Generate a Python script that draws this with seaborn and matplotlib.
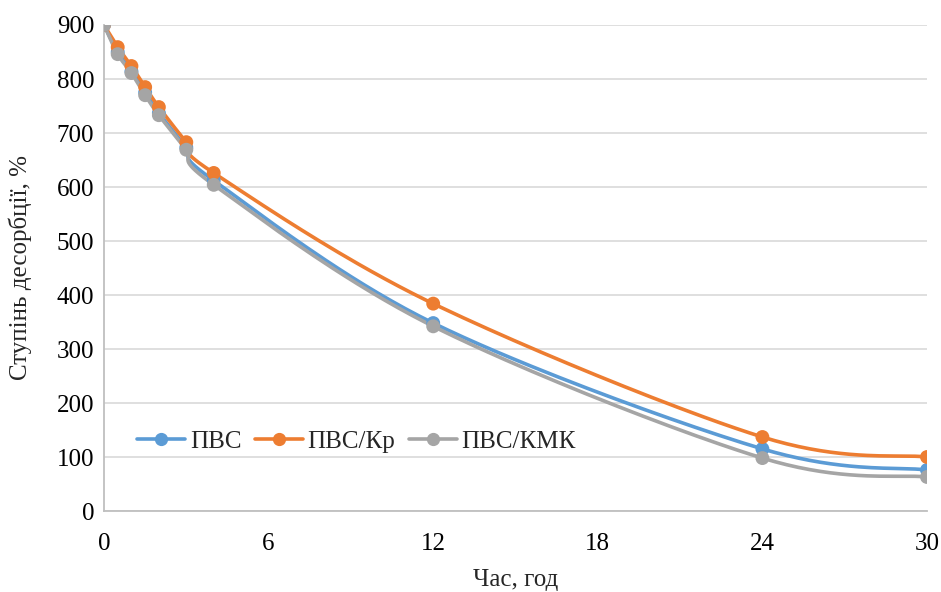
import numpy as np
import pandas as pd
import seaborn as sns
import matplotlib
matplotlib.use("Agg")
import matplotlib.pyplot as plt
from matplotlib.lines import Line2D

# ---- data ----
time_h = [0, 0.5, 1, 1.5, 2, 3, 4, 12, 24, 30]
pvs = [900, 850, 814, 775, 737, 673, 612, 348, 115, 76]
pvs_kr = [900, 859, 824, 785, 748, 683, 626, 384, 137, 100]
pvs_kmk = [900, 846, 811, 770, 733, 669, 604, 342, 98, 63]
series_names = ["ПВС", "ПВС/Кр", "ПВС/КМК"]
colors = ["#5B9BD5", "#ED7D31", "#A5A5A5"]
x_ticks = [0, 6, 12, 18, 24, 30]
y_ticks = [0, 100, 200, 300, 400, 500, 600, 700, 800, 900]

df = pd.DataFrame({
    "t": time_h * 3,
    "v": pvs + pvs_kr + pvs_kmk,
    "s": [series_names[0]] * len(time_h) + [series_names[1]] * len(time_h) + [series_names[2]] * len(time_h),
})

sns.set_theme(style="white")
plt.rcParams["font.family"] = ["Liberation Serif", "DejaVu Serif"]

fig = plt.figure(figsize=(9.41, 5.92), dpi=100)
ax = fig.add_axes([104 / 941, 1 - 511 / 592, (927 - 104) / 941, (511 - 25) / 592])

XMAX, YMAX = 30.0, 900.0
W, H = 823.0, 486.0


def smooth(xs, ys, n=40):
    # Excel-like Bezier smoothing computed in pixel-like space
    px = np.asarray(xs, float) / XMAX * W
    py = np.asarray(ys, float) / YMAX * H
    P = np.column_stack([px, py])
    out = []
    m = len(P)
    for i in range(m - 1):
        p0 = P[i - 1] if i > 0 else P[i]
        p1 = P[i]
        p2 = P[i + 1]
        p3 = P[i + 2] if i + 2 < m else P[i + 1]
        c1 = p1 + (p2 - p0) / 6.0
        c2 = p2 - (p3 - p1) / 6.0
        t = np.linspace(0, 1, n)[:, None]
        seg = ((1 - t) ** 3) * p1 + 3 * ((1 - t) ** 2) * t * c1 + 3 * (1 - t) * t ** 2 * c2 + t ** 3 * p2
        out.append(seg if i == 0 else seg[1:])
    out = np.vstack(out)
    return out[:, 0] / W * XMAX, out[:, 1] / H * YMAX


LW, MS = 2.6, 10
for name, col in zip(series_names, colors):
    sub = df[df["s"] == name]
    sx, sy = smooth(sub["t"].values, sub["v"].values)
    ax.plot(sx, sy, color=col, lw=LW, solid_capstyle="round", zorder=3)
    sns.scatterplot(x=sub["t"], y=sub["v"], color=col, s=MS ** 2, edgecolor="none",
                    ax=ax, zorder=4, legend=False)

handles = [Line2D([0], [0], color=c, lw=LW, marker="o", ms=8.5) for c in colors]
ax.legend(handles, series_names, loc="center", bbox_to_anchor=(0.307, 0.142), ncol=3,
          frameon=False, fontsize=18, handlelength=1.9, columnspacing=0.55, handletextpad=0.2)

ax.set_xlim(0, 30)
ax.set_ylim(0, 900)
ax.set_xticks(x_ticks)
ax.set_yticks(y_ticks)
ax.grid(axis="y", color="#D9D9D9", lw=1.2)
ax.set_axisbelow(True)
for s in ["top", "right"]:
    ax.spines[s].set_visible(False)
for s in ["left", "bottom"]:
    ax.spines[s].set_color("#BFBFBF")
    ax.spines[s].set_linewidth(1.3)
ax.tick_params(axis="both", labelsize=18, colors="black", length=0)
ax.tick_params(axis="y", pad=7)
ax.tick_params(axis="x", pad=16)
ax.set_xlabel("Час, год", fontsize=18, labelpad=10)
ax.set_ylabel("Ступінь десорбції, %", fontsize=18, labelpad=18)

fig.savefig("out.png", dpi=100)
